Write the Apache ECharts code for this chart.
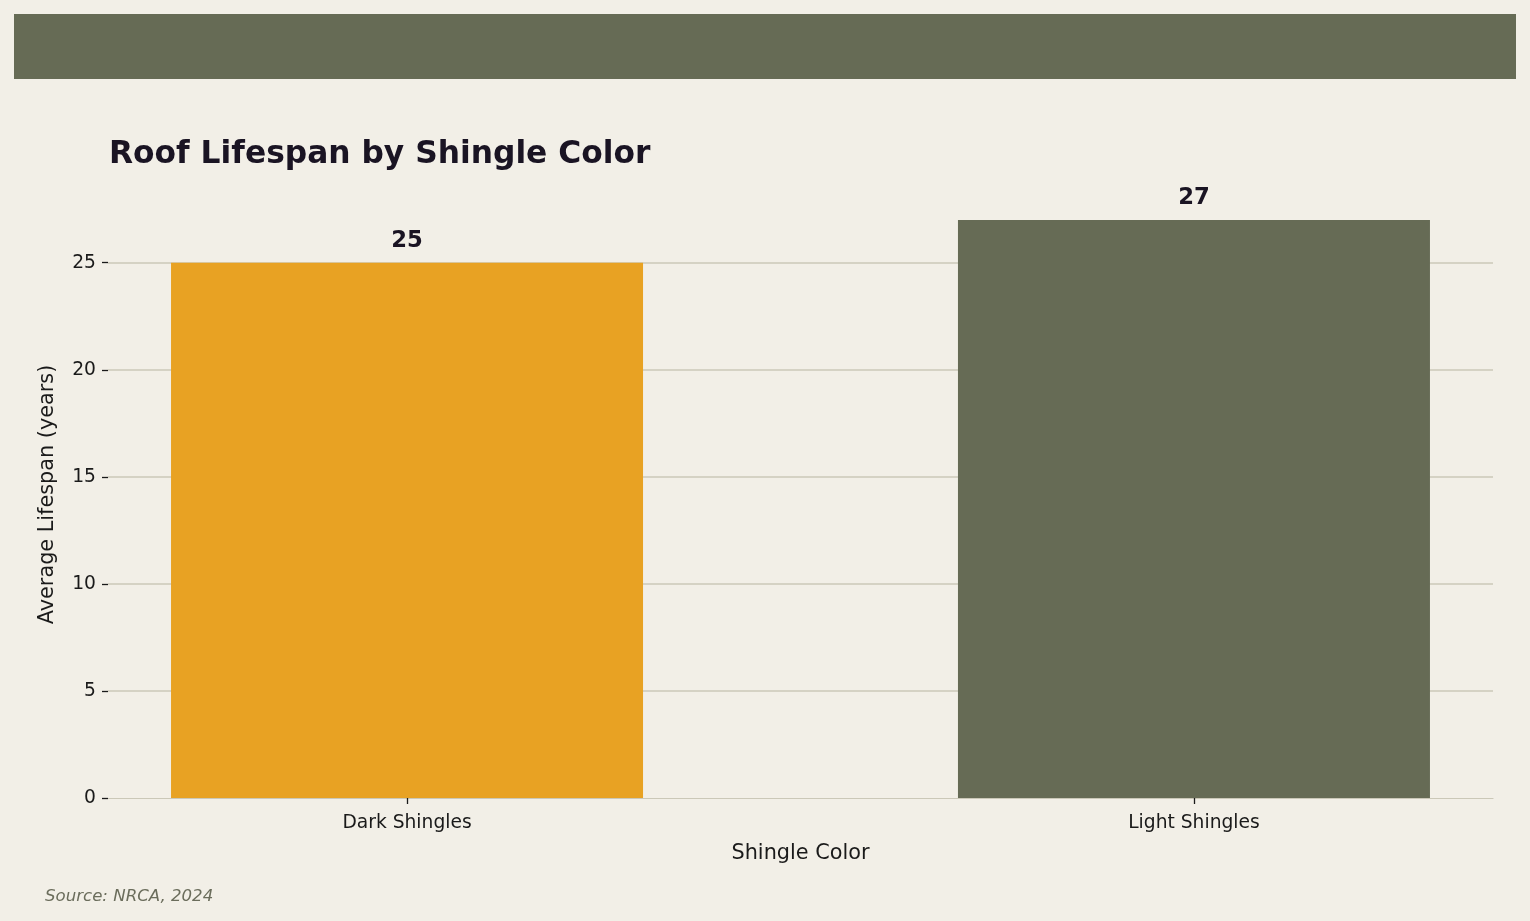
<!DOCTYPE html>
<html>
<head>
<meta charset="utf-8">
<script src="https://cdn.jsdelivr.net/npm/echarts@6/dist/echarts.min.js"></script>
<style>
html,body{margin:0;padding:0;background:#f2efe7;}
#chart{width:1530px;height:921px;}
</style>
</head>
<body>
<div id="chart"></div>
<script>
const categories = ['Dark Shingles', 'Light Shingles'];
const lifespanYears = [25, 27];
const yTicks = [0, 5, 10, 15, 20, 25];
const barColors = ['#e8a223', '#666b55'];

const chart = echarts.init(document.getElementById('chart'));
const font = '"DejaVu Sans", sans-serif';
const option = {
  backgroundColor: '#f2efe7',
  animation: false,
  graphic: [
    { type: 'rect', left: 14, top: 14, shape: { width: 1502, height: 65 }, style: { fill: '#666b55' }, z: 0 },
    { type: 'text', left: 45, top: 888, style: { text: 'Source: NRCA, 2024', font: 'italic 16.6px "DejaVu Sans", sans-serif', fill: '#6b6d5c' } }
  ],
  title: {
    text: 'Roof Lifespan by Shingle Color',
    left: 104, top: 134,
    textStyle: { fontFamily: font, fontWeight: 'bold', fontSize: 31.3, color: '#1a1423' }
  },
  grid: { left: 108, right: 37, top: 191, bottom: 123, outerBoundsMode: 'none', containLabel: false },
  xAxis: {
    type: 'value', min: -0.38, max: 1.38,
    name: 'Shingle Color', nameLocation: 'middle', nameGap: 45,
    nameTextStyle: { fontFamily: font, fontSize: 20.8, color: '#1a1a1a' },
    axisLine: { show: true, onZero: false, lineStyle: { color: '#cbc8b8', width: 1.2 } },
    axisTick: { show: true, customValues: [0, 1], length: 6, lineStyle: { color: '#1a1a1a', width: 1.3 } },
    axisLabel: { customValues: [0, 1], formatter: v => categories[Math.round(v)], fontFamily: font, fontSize: 18.7, color: '#1a1a1a', margin: 16 },
    splitLine: { show: false }
  },
  yAxis: {
    type: 'value', min: 0, max: 28.35,
    name: 'Average Lifespan (years)', nameLocation: 'middle', nameGap: 50, nameRotate: 90,
    nameTextStyle: { fontFamily: font, fontSize: 20.8, color: '#1a1a1a' },
    axisLine: { show: true, onZero: false, lineStyle: { color: 'rgba(0,0,0,0)', width: 0 } },
    axisTick: { show: true, customValues: yTicks, length: 6, lineStyle: { color: '#1a1a1a', width: 1.3 } },
    axisLabel: { customValues: yTicks, fontFamily: font, fontSize: 18.7, color: '#1a1a1a', margin: 12 },
    splitLine: { show: false }
  },
  series: [
    {
      type: 'bar', z: 3, barWidth: 472,
      data: categories.map((c, i) => ({ value: [i, lifespanYears[i]], itemStyle: { color: barColors[i] } })),
      label: {
        show: true, position: 'top', distance: 10,
        formatter: p => p.value[1],
        fontFamily: font, fontWeight: 'bold', fontSize: 22.7, color: '#1a1423'
      },
      markLine: {
        z: 1, silent: true, symbol: 'none', animation: false,
        label: { show: false },
        lineStyle: { color: '#cbc8b8', width: 1.5, type: 'solid' },
        data: yTicks.filter(t => t > 0).map(t => ({ yAxis: t }))
      }
    }
  ]
};
chart.setOption(option);
</script>
</body>
</html>
